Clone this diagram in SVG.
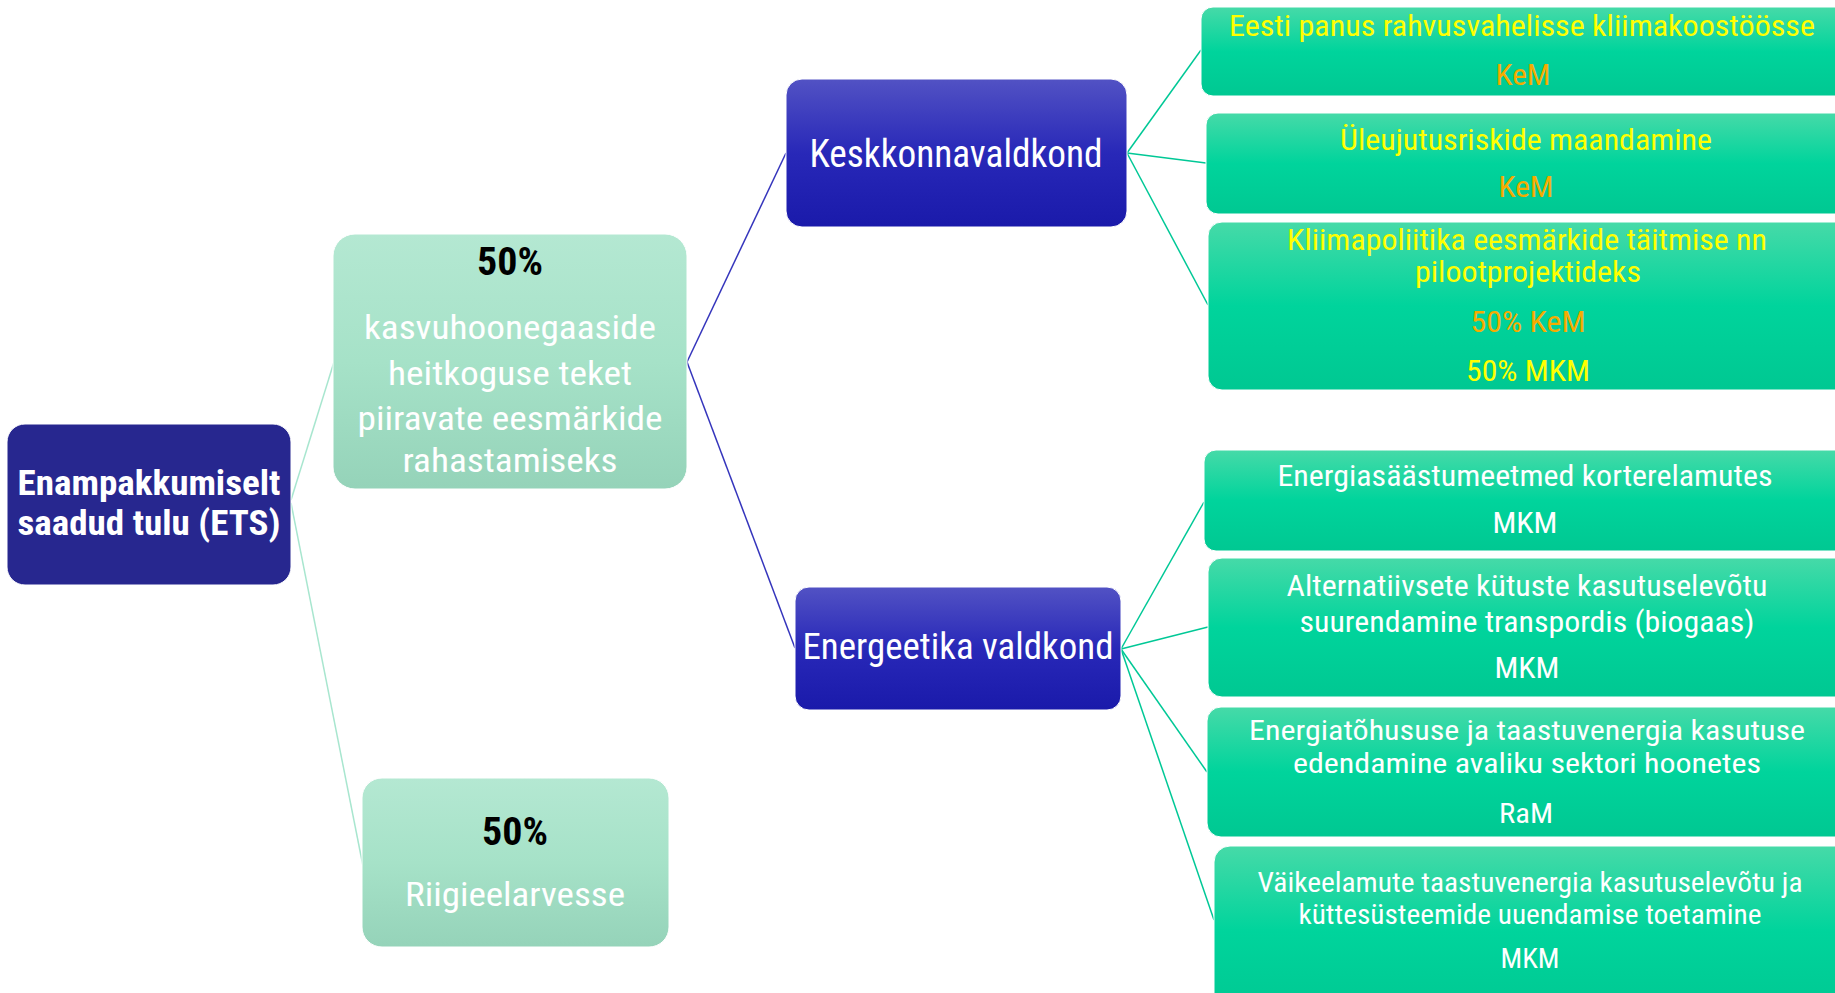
<svg xmlns="http://www.w3.org/2000/svg" width="1835" height="993" viewBox="0 0 1835 993">
<defs>
<linearGradient id="gMint" x1="0" y1="0" x2="0" y2="1"><stop offset="0" stop-color="#B4E8D2"/><stop offset="0.5" stop-color="#A6E2C8"/><stop offset="1" stop-color="#95D3B9"/></linearGradient>
<linearGradient id="gBlue" x1="0" y1="0" x2="0" y2="1"><stop offset="0" stop-color="#5252C4"/><stop offset="0.5" stop-color="#2828B8"/><stop offset="1" stop-color="#1A1AAA"/></linearGradient>
<linearGradient id="gGreen" x1="0" y1="0" x2="0" y2="1"><stop offset="0" stop-color="#46DAA8"/><stop offset="0.5" stop-color="#00D49C"/><stop offset="1" stop-color="#00C892"/></linearGradient>
</defs>
<style>
text{font-family:"Roboto Condensed",Roboto,"Liberation Sans",sans-serif;text-anchor:middle}
.w{fill:#FFFFFF}
.y{fill:#FFFF00}
.o{fill:#F5AC00}
.b{fill:#000000;font-weight:bold}
.mint{fill:url(#gMint);stroke:#FFFFFF;stroke-width:1}
.blue{fill:url(#gBlue);stroke:#FFFFFF;stroke-width:1}
.green{fill:url(#gGreen);stroke:#FFFFFF;stroke-width:1}
.c1{stroke:#A8E6CF;stroke-width:1.5;fill:none}
.c2{stroke:#3535BC;stroke-width:1.5;fill:none}
.c3{stroke:#00C896;stroke-width:1.5;fill:none}
</style>
<rect width="1835" height="993" fill="#FFFFFF"/>
<g id="connectors">
<line class="c1" x1="291" y1="500" x2="334" y2="362"/>
<line class="c1" x1="291" y1="503" x2="363" y2="866"/>
<line class="c2" x1="687" y1="362" x2="786" y2="153"/>
<line class="c2" x1="687" y1="362" x2="795" y2="648"/>
<line class="c3" x1="1127" y1="153" x2="1201" y2="50"/>
<line class="c3" x1="1127" y1="153" x2="1206" y2="163"/>
<line class="c3" x1="1127" y1="153" x2="1208" y2="305"/>
<line class="c3" x1="1121" y1="649" x2="1204" y2="502"/>
<line class="c3" x1="1121" y1="649" x2="1208" y2="627"/>
<line class="c3" x1="1121" y1="649" x2="1207" y2="772"/>
<line class="c3" x1="1121" y1="649" x2="1214" y2="920"/>
</g>
<g id="root">
<rect x="7" y="424" width="284" height="161" rx="18" fill="#27278F" stroke="#FFFFFF"/>
<text x="149" y="495" class="w" font-size="35" font-weight="bold" textLength="263" lengthAdjust="spacingAndGlyphs">Enampakkumiselt</text>
<text x="149" y="535" class="w" font-size="35" font-weight="bold" textLength="263" lengthAdjust="spacingAndGlyphs">saadud tulu (ETS)</text>
</g>
<g id="half1">
<rect x="333" y="234" width="354" height="255" rx="22" class="mint"/>
<text x="510" y="275" class="b" font-size="38" textLength="66" lengthAdjust="spacingAndGlyphs">50%</text>
<text x="510" y="339" class="w" font-size="33.5" textLength="292" lengthAdjust="spacingAndGlyphs">kasvuhoonegaaside</text>
<text x="510" y="385" class="w" font-size="33.5" textLength="244" lengthAdjust="spacingAndGlyphs">heitkoguse teket</text>
<text x="510" y="430" class="w" font-size="33.5" textLength="305" lengthAdjust="spacingAndGlyphs">piiravate eesmärkide</text>
<text x="510" y="472" class="w" font-size="33.5" textLength="215" lengthAdjust="spacingAndGlyphs">rahastamiseks</text>
</g>
<g id="half2">
<rect x="362" y="778" width="307" height="169" rx="20" class="mint"/>
<text x="515" y="845" class="b" font-size="38" textLength="66" lengthAdjust="spacingAndGlyphs">50%</text>
<text x="515" y="906" class="w" font-size="33.5" textLength="220" lengthAdjust="spacingAndGlyphs">Riigieelarvesse</text>
</g>
<g id="keskkond">
<rect x="786" y="79" width="341" height="148" rx="16" class="blue"/>
<text x="956" y="167" class="w" font-size="38" textLength="293" lengthAdjust="spacingAndGlyphs">Keskkonnavaldkond</text>
</g>
<g id="energeetika">
<rect x="795" y="587" width="326" height="123" rx="14" class="blue"/>
<text x="958" y="659" class="w" font-size="36.5" textLength="311" lengthAdjust="spacingAndGlyphs">Energeetika valdkond</text>
</g>
<g id="k1">
<rect x="1201" y="7" width="660" height="89" rx="12" class="green"/>
<text x="1522" y="36" class="y" font-size="29.5" textLength="586" lengthAdjust="spacingAndGlyphs">Eesti panus rahvusvahelisse kliimakoostöösse</text>
<text x="1523" y="85" class="o" font-size="29.5" textLength="55" lengthAdjust="spacingAndGlyphs">KeM</text>
</g>
<g id="k2">
<rect x="1206" y="113" width="660" height="101" rx="12" class="green"/>
<text x="1526" y="150" class="y" font-size="29.5" textLength="372" lengthAdjust="spacingAndGlyphs">Üleujutusriskide maandamine</text>
<text x="1526" y="197" class="o" font-size="29.5" textLength="55" lengthAdjust="spacingAndGlyphs">KeM</text>
</g>
<g id="k3">
<rect x="1208" y="222" width="660" height="168" rx="14" class="green"/>
<text x="1527" y="250" class="y" font-size="29.5" textLength="480" lengthAdjust="spacingAndGlyphs">Kliimapoliitika eesmärkide täitmise nn</text>
<text x="1528" y="282" class="y" font-size="29.5" textLength="226" lengthAdjust="spacingAndGlyphs">pilootprojektideks</text>
<text x="1528" y="332" class="o" font-size="29.5" textLength="115" lengthAdjust="spacingAndGlyphs">50% KeM</text>
<text x="1528" y="381" class="y" font-size="29.5" textLength="124" lengthAdjust="spacingAndGlyphs">50% MKM</text>
</g>
<g id="e1">
<rect x="1204" y="450" width="660" height="101" rx="12" class="green"/>
<text x="1525" y="486" class="w" font-size="29" textLength="495" lengthAdjust="spacingAndGlyphs">Energiasäästumeetmed korterelamutes</text>
<text x="1525" y="533" class="w" font-size="29" textLength="65" lengthAdjust="spacingAndGlyphs">MKM</text>
</g>
<g id="e2">
<rect x="1208" y="558" width="660" height="139" rx="14" class="green"/>
<text x="1527" y="596" class="w" font-size="29" textLength="481" lengthAdjust="spacingAndGlyphs">Alternatiivsete kütuste kasutuselevõtu</text>
<text x="1527" y="632" class="w" font-size="29" textLength="455" lengthAdjust="spacingAndGlyphs">suurendamine transpordis (biogaas)</text>
<text x="1527" y="678" class="w" font-size="29" textLength="65" lengthAdjust="spacingAndGlyphs">MKM</text>
</g>
<g id="e3">
<rect x="1207" y="707" width="660" height="130" rx="14" class="green"/>
<text x="1527" y="740" class="w" font-size="28" textLength="556" lengthAdjust="spacingAndGlyphs">Energiatõhususe ja taastuvenergia kasutuse</text>
<text x="1527" y="773" class="w" font-size="28" textLength="468" lengthAdjust="spacingAndGlyphs">edendamine avaliku sektori hoonetes</text>
<text x="1526" y="823" class="w" font-size="28" textLength="54" lengthAdjust="spacingAndGlyphs">RaM</text>
</g>
<g id="e4">
<rect x="1214" y="846" width="660" height="170" rx="16" class="green"/>
<text x="1530" y="892" class="w" font-size="28" textLength="545" lengthAdjust="spacingAndGlyphs">Väikeelamute taastuvenergia kasutuselevõtu ja</text>
<text x="1530" y="924" class="w" font-size="28" textLength="463" lengthAdjust="spacingAndGlyphs">küttesüsteemide uuendamise toetamine</text>
<text x="1530" y="968" class="w" font-size="28" textLength="59" lengthAdjust="spacingAndGlyphs">MKM</text>
</g>
</svg>
